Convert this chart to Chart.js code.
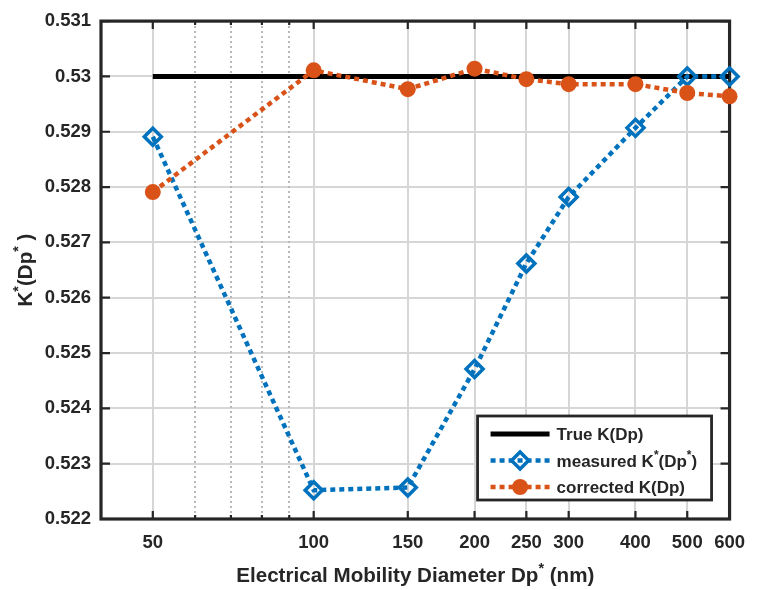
<!DOCTYPE html>
<html>
<head>
<meta charset="utf-8">
<script src="https://cdn.jsdelivr.net/npm/chart.js@4/dist/chart.umd.min.js"></script>
<style>
  html, body { margin: 0; padding: 0; background: #fff; }
  #wrap { width: 758px; height: 590px; }
</style>
</head>
<body>
<div id="wrap"><canvas id="chart" width="758" height="590"></canvas></div>
<script>
// --- data ---
const diameters = [50, 100, 150, 200, 250, 300, 400, 500, 600];
const trueK = [0.53, 0.53, 0.53, 0.53, 0.53, 0.53, 0.53, 0.53, 0.53];
const measuredK = [0.52891, 0.52252, 0.52257, 0.52471, 0.52662, 0.52782, 0.52907, 0.53000, 0.53000];
const correctedK = [0.52791, 0.53011, 0.52977, 0.53014, 0.52995, 0.52986, 0.52986, 0.52970, 0.52964];

const xMajorTicks = [50, 100, 150, 200, 250, 300, 400, 500, 600];
const xMinorTicks = [60, 70, 80, 90];
const xMin = 40, xMax = 600;
const yMin = 0.522, yMax = 0.531, yStep = 0.001;

const FONT = '"Liberation Sans", Arial, Helvetica, sans-serif';
const INK = '#262626';
const BLUE = '#0072BD';
const ORANGE = '#D95319';

const pts = ys => diameters.map((d, i) => ({ x: d, y: ys[i] }));

// text with superscripts: parts = [[text, isSup], ...]
function richWidth(ctx, parts, size) {
    let w = 0;
    parts.forEach(([t, sup]) => {
        ctx.font = 'bold ' + (sup ? size * 0.7 : size) + 'px ' + FONT;
        w += ctx.measureText(t).width;
    });
    return w;
}
function drawRich(ctx, parts, x, y, size, align) {
    const w = richWidth(ctx, parts, size);
    let cx = align === 'center' ? x - w / 2 : x;
    ctx.textBaseline = 'alphabetic';
    ctx.textAlign = 'left';
    parts.forEach(([t, sup]) => {
        ctx.font = 'bold ' + (sup ? size * 0.7 : size) + 'px ' + FONT;
        ctx.fillText(t, cx, sup ? y - size * 0.42 : y);
        cx += ctx.measureText(t).width;
    });
}

const framePlugin = {
    id: 'frame',
    beforeDatasetsDraw(chart) {
        const { ctx, chartArea: ca, scales } = chart;
        const xs = scales.x, ys = scales.y;
        ctx.save();
        // minor dotted grid (60..90)
        ctx.strokeStyle = '#b8b8b8';
        ctx.lineWidth = 2;
        ctx.setLineDash([2, 3]);
        xMinorTicks.forEach(v => {
            const px = Math.round(xs.getPixelForValue(v));
            ctx.beginPath();
            ctx.moveTo(px, ca.top);
            ctx.lineTo(px, ca.bottom);
            ctx.stroke();
        });
        ctx.setLineDash([]);
        // tick marks inside the box
        ctx.strokeStyle = INK;
        ctx.lineWidth = 2.2;
        ctx.beginPath();
        xMajorTicks.forEach(v => {
            const px = xs.getPixelForValue(v);
            ctx.moveTo(px, ca.bottom); ctx.lineTo(px, ca.bottom - 8);
            ctx.moveTo(px, ca.top); ctx.lineTo(px, ca.top + 8);
        });
        xMinorTicks.forEach(v => {
            const px = xs.getPixelForValue(v);
            ctx.moveTo(px, ca.bottom); ctx.lineTo(px, ca.bottom - 4);
            ctx.moveTo(px, ca.top); ctx.lineTo(px, ca.top + 4);
        });
        ys.ticks.forEach(t => {
            const py = ys.getPixelForValue(t.value);
            ctx.moveTo(ca.left, py); ctx.lineTo(ca.left + 9, py);
            ctx.moveTo(ca.right, py); ctx.lineTo(ca.right - 9, py);
        });
        ctx.stroke();
        // axes box
        ctx.lineWidth = 3.2;
        ctx.strokeRect(ca.left, ca.top, ca.right - ca.left, ca.bottom - ca.top);
        ctx.restore();
    },
    afterDraw(chart) {
        const { ctx, chartArea: ca } = chart;
        ctx.save();
        ctx.fillStyle = INK;
        // x title
        drawRich(ctx, [['Electrical Mobility Diameter Dp', false], ['*', true], [' (nm)', false]],
            (ca.left + ca.right) / 2, 582, 20.6, 'center');
        // y title
        ctx.save();
        ctx.translate(24, (ca.top + ca.bottom) / 2);
        ctx.rotate(-Math.PI / 2);
        drawRich(ctx, [['K', false], ['*', true], ['(Dp', false], ['*', true], [' )', false]], 0, 7.5, 20.6, 'center');
        ctx.restore();

        // legend
        const w = 234, h = 84;
        const x0 = ca.right - 18 - w, y0 = ca.bottom - 19 - h;
        ctx.fillStyle = '#fff';
        ctx.fillRect(x0, y0, w, h);
        ctx.strokeStyle = INK;
        ctx.lineWidth = 2.8;
        ctx.strokeRect(x0, y0, w, h);
        const rows = [
            { parts: [['True K(Dp)', false]], color: '#000', dash: [], marker: null },
            { parts: [['measured K', false], ['*', true], ['(Dp', false], ['*', true], [')', false]], color: BLUE, dash: [5, 4], marker: 'diamond' },
            { parts: [['corrected K(Dp)', false]], color: ORANGE, dash: [5, 4], marker: 'circle' }
        ];
        rows.forEach((r, i) => {
            const yy = y0 + 18 + i * 26.5;
            const lx1 = x0 + 13, lx2 = x0 + 72, mx = (lx1 + lx2) / 2;
            ctx.strokeStyle = r.color;
            ctx.lineWidth = r.dash.length ? 4.5 : 5;
            ctx.setLineDash(r.dash);
            ctx.beginPath();
            ctx.moveTo(lx1, yy); ctx.lineTo(lx2, yy);
            ctx.stroke();
            ctx.setLineDash([]);
            if (r.marker === 'diamond') {
                ctx.lineWidth = 3.5;
                ctx.beginPath();
                ctx.moveTo(mx - 8.5, yy); ctx.lineTo(mx, yy - 8.5); ctx.lineTo(mx + 8.5, yy); ctx.lineTo(mx, yy + 8.5);
                ctx.closePath();
                ctx.stroke();
            } else if (r.marker === 'circle') {
                ctx.fillStyle = r.color;
                ctx.beginPath();
                ctx.arc(mx, yy, 8, 0, Math.PI * 2);
                ctx.fill();
            }
            ctx.fillStyle = INK;
            drawRich(ctx, r.parts, x0 + 79, yy + 6, 17, 'left');
        });
        ctx.restore();
    }
};

new Chart(document.getElementById('chart'), {
    type: 'line',
    data: {
        datasets: [
            {
                label: 'True K(Dp)',
                data: pts(trueK),
                borderColor: '#000',
                borderWidth: 5,
                pointRadius: 0,
                order: 3,
                clip: false
            },
            {
                label: 'measured K*(Dp*)',
                data: pts(measuredK),
                borderColor: BLUE,
                borderWidth: 4.5,
                borderDash: [5, 4],
                pointStyle: 'rectRot',
                pointRadius: 8.5,
                pointBorderWidth: 3.5,
                pointBorderColor: BLUE,
                pointBackgroundColor: 'rgba(0,0,0,0)',
                order: 2,
                clip: false
            },
            {
                label: 'corrected K(Dp)',
                data: pts(correctedK),
                borderColor: ORANGE,
                borderWidth: 4.5,
                borderDash: [5, 4],
                pointStyle: 'circle',
                pointRadius: 8,
                pointBorderWidth: 0,
                pointBackgroundColor: ORANGE,
                order: 1,
                clip: false
            }
        ]
    },
    options: {
        responsive: false,
        animation: false,
        devicePixelRatio: 1,
        events: [],
        layout: { padding: { top: 15, right: 19, left: 0, bottom: 0 } },
        plugins: { legend: { display: false }, tooltip: { enabled: false } },
        scales: {
            x: {
                type: 'logarithmic',
                min: xMin,
                max: xMax,
                afterBuildTicks: s => { s.ticks = xMajorTicks.map(v => ({ value: v })); },
                afterFit: s => { s.height = 71; },
                grid: { color: '#d6d6d6', lineWidth: 2, drawTicks: false },
                border: { display: false },
                ticks: {
                    autoSkip: false,
                    maxRotation: 0,
                    padding: 13,
                    color: INK,
                    font: { family: FONT, size: 18.5, weight: 'bold' },
                    callback: v => String(v)
                }
            },
            y: {
                type: 'linear',
                min: yMin,
                max: yMax,
                afterFit: s => { s.width = 101; },
                grid: { color: '#d6d6d6', lineWidth: 2, drawTicks: false },
                border: { display: false },
                ticks: {
                    stepSize: yStep,
                    padding: 10,
                    color: INK,
                    font: { family: FONT, size: 18.5, weight: 'bold' },
                    callback: v => String(+Number(v).toFixed(3))
                }
            }
        }
    },
    plugins: [framePlugin]
});
</script>
</body>
</html>
